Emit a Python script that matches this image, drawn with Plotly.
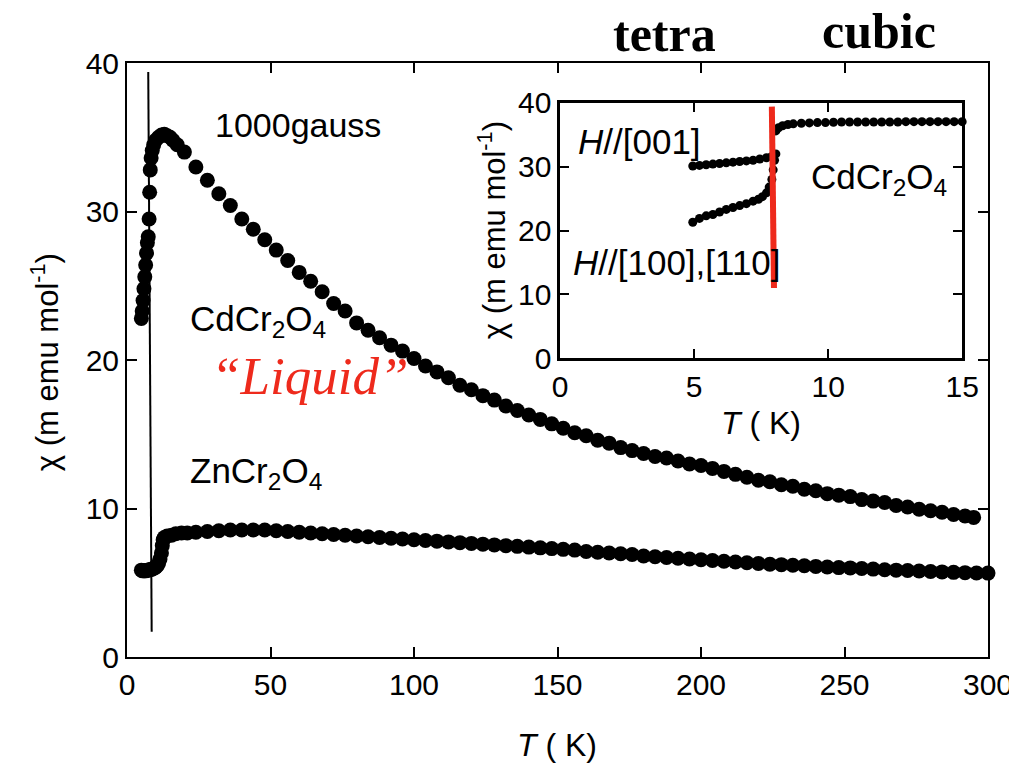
import plotly.graph_objects as go

# ---------------- main panel data ----------------
cd_T = [5.0, 5.3, 5.6, 5.9, 6.2, 6.5, 6.8, 7.1, 7.4, 7.7, 7.9, 8.1, 8.4, 8.8, 9.3, 10.0, 11.0, 12.0,
        13.0, 14.0, 15.0, 16.0, 17.5, 20, 24, 28, 32, 36, 40, 44, 48, 52, 56, 60, 64, 68, 72, 76,
        80, 84, 88, 92, 96, 100, 104, 108, 112, 116, 120, 124, 128, 132, 136, 140, 144, 148, 152,
        156, 160, 164, 168, 172, 176, 180, 184, 188, 192, 196, 200, 204, 208, 212, 216, 220, 224,
        228, 232, 236, 240, 244, 248, 252, 256, 260, 264, 268, 272, 276, 280, 284, 288, 292, 295]
cd_chi = [22.8, 23.3, 24.0, 24.8, 25.6, 26.4, 27.2, 27.9, 28.3, 29.5, 31.3, 32.8, 33.6, 34.1, 34.5,
          34.8, 35.0, 35.15, 35.2, 35.1, 35.0, 34.8, 34.5, 34.0, 33.0, 32.1, 31.2, 30.4, 29.5, 28.8,
          28.1, 27.4, 26.7, 25.9, 25.3, 24.6, 23.8, 23.3, 22.5, 22.0, 21.5, 21.0, 20.6, 20.1, 19.6,
          19.2, 18.8, 18.3, 18.0, 17.6, 17.3, 16.9, 16.6, 16.3, 16.0, 15.7, 15.4, 15.1, 14.9, 14.6,
          14.4, 14.1, 13.9, 13.7, 13.5, 13.4, 13.2, 13.0, 12.9, 12.7, 12.5, 12.3, 12.1, 11.9, 11.8,
          11.6, 11.5, 11.3, 11.2, 11.0, 10.9, 10.8, 10.6, 10.5, 10.4, 10.2, 10.1, 9.95, 9.85, 9.75,
          9.6, 9.5, 9.4]

zn_T = [5.0, 5.5, 6.0, 6.5, 7.0, 7.5, 8.0, 8.5, 9.0, 9.5, 10.0, 10.5, 11.0, 11.5, 12.0, 12.3, 12.6,
        13.0, 14.0, 15.5, 17, 19, 21, 24, 28, 32, 36, 40, 44, 48, 52, 56, 60, 64, 68, 72, 76, 80,
        84, 88, 92, 96, 100, 104, 108, 112, 116, 120, 124, 128, 132, 136, 140, 144, 148, 152, 156,
        160, 164, 168, 172, 176, 180, 184, 188, 192, 196, 200, 204, 208, 212, 216, 220, 224, 228,
        232, 236, 240, 244, 248, 252, 256, 260, 264, 268, 272, 276, 280, 284, 288, 292, 296, 300]
zn_chi = [5.85, 5.8, 5.8, 5.8, 5.85, 5.85, 5.9, 5.9, 5.95, 6.0, 6.05, 6.15, 6.3, 6.6, 7.0, 7.5, 7.9,
          8.05, 8.15, 8.2, 8.3, 8.35, 8.35, 8.4, 8.45, 8.5, 8.55, 8.55, 8.55, 8.55, 8.5, 8.45, 8.4,
          8.35, 8.3, 8.25, 8.2, 8.15, 8.1, 8.05, 8.0, 7.95, 7.9, 7.85, 7.8, 7.75, 7.7, 7.65, 7.6,
          7.55, 7.5, 7.45, 7.4, 7.35, 7.3, 7.25, 7.2, 7.1, 7.05, 7.0, 6.95, 6.9, 6.8, 6.75, 6.7,
          6.65, 6.6, 6.55, 6.5, 6.45, 6.4, 6.35, 6.3, 6.25, 6.22, 6.18, 6.14, 6.1, 6.06, 6.02, 6.0,
          5.96, 5.92, 5.88, 5.85, 5.82, 5.79, 5.76, 5.73, 5.7, 5.68, 5.66, 5.65]

# vertical marker line at the transition (main panel)
tn_line_T = [7.4, 8.6]
tn_line_chi = [39.4, 1.7]

# ---------------- inset data ----------------
h001_T = [4.95, 5.2, 5.45, 5.7, 5.95, 6.2, 6.45, 6.7, 6.95, 7.2, 7.45, 7.7, 7.9, 8.05]
h001_chi = [30.1, 30.2, 30.3, 30.4, 30.5, 30.6, 30.7, 30.8, 30.9, 31.0, 31.2, 31.4, 31.6, 32.0]

h100_T = [4.95, 5.2, 5.45, 5.7, 5.95, 6.2, 6.45, 6.7, 6.95, 7.2, 7.4, 7.55, 7.7, 7.8, 7.9, 7.95, 8.0]
h100_chi = [21.3, 21.9, 22.3, 22.5, 22.9, 23.3, 23.6, 23.9, 24.2, 24.6, 24.9, 25.3, 25.9, 26.8,
            28.0, 29.5, 31.0]

cubic_T = [8.05, 8.15, 8.3, 8.5, 8.7, 9.0, 9.3, 9.6, 9.9, 10.2, 10.5, 10.8, 11.1, 11.4, 11.7,
           12.0, 12.3, 12.6, 12.9, 13.2, 13.5, 13.8, 14.1, 14.4, 14.7, 15.0]
cubic_chi = [35.6, 36.1, 36.4, 36.6, 36.7, 36.8, 36.85, 36.9, 36.9, 36.95, 37.0, 37.0, 37.0, 37.0,
             37.0, 37.0, 37.0, 37.0, 37.05, 37.05, 37.05, 37.05, 37.05, 37.05, 37.05, 37.05]

red_line_T = [7.9, 7.98]
red_line_chi = [39.4, 11.0]

main_xticks = [0, 50, 100, 150, 200, 250, 300]
main_yticks = [0, 10, 20, 30, 40]
inset_xticks = [0, 5, 10, 15]
inset_yticks = [0, 10, 20, 30, 40]

FONT = "Liberation Sans, Arial, sans-serif"
SERIF = "Liberation Serif, Times New Roman, serif"
RED = "#ee2a1c"

# page offset (browser body margin) compensation
OFF = 8
PL, PT, PW, PH = 127, 63, 863, 594  # plot area on screen

fig = go.Figure()

fig.add_trace(go.Scatter(x=tn_line_T, y=tn_line_chi, mode="lines",
                         line=dict(color="black", width=2), xaxis="x", yaxis="y",
                         showlegend=False, hoverinfo="skip"))
fig.add_trace(go.Scatter(x=cd_T, y=cd_chi, mode="markers", name="CdCr2O4",
                         marker=dict(color="black", size=15, symbol="circle"),
                         xaxis="x", yaxis="y", showlegend=False, cliponaxis=False))
fig.add_trace(go.Scatter(x=zn_T, y=zn_chi, mode="markers", name="ZnCr2O4",
                         marker=dict(color="black", size=15, symbol="circle"),
                         xaxis="x", yaxis="y", showlegend=False, cliponaxis=False))

# inset
for tx, ty in [(h001_T, h001_chi), (h100_T, h100_chi), (cubic_T, cubic_chi)]:
    fig.add_trace(go.Scatter(x=tx, y=ty, mode="markers",
                             marker=dict(color="black", size=9, symbol="circle"),
                             xaxis="x2", yaxis="y2", showlegend=False, cliponaxis=False))
fig.add_trace(go.Scatter(x=red_line_T, y=red_line_chi, mode="lines",
                         line=dict(color=RED, width=6), xaxis="x2", yaxis="y2",
                         showlegend=False, hoverinfo="skip"))

axis_common = dict(showline=True, linecolor="black", mirror="ticks", ticks="inside",
                   tickcolor="black", showgrid=False, zeroline=False,
                   tickfont=dict(family=FONT, size=30, color="black"))

fig.update_layout(
    width=1017, height=764,
    margin=dict(l=PL - OFF, r=1017 - PL - PW + OFF, t=PT - OFF, b=764 - PT - PH + OFF),
    paper_bgcolor="white", plot_bgcolor="white",
    xaxis=dict(range=[0, 300], tickvals=main_xticks, domain=[0, 1], anchor="y",
               linewidth=2, ticklen=10, tickwidth=2, **axis_common),
    yaxis=dict(range=[0, 40], tickvals=main_yticks, domain=[0, 1], anchor="x",
               linewidth=2, ticklen=10, tickwidth=2, **axis_common),
    xaxis2=dict(range=[0, 15], tickvals=inset_xticks, domain=[0.503, 0.970], anchor="y2",
                linewidth=2.5, ticklen=9, tickwidth=2, **axis_common),
    yaxis2=dict(range=[0, 40], tickvals=inset_yticks, domain=[0.503, 0.933], anchor="x2",
                linewidth=2.5, ticklen=9, tickwidth=2, **axis_common),
)

ann = []
def txt(text, x, y, xref, yref, size, family=FONT, color="black", xanchor="left",
        yanchor="middle", angle=0):
    ann.append(dict(text=text, x=x, y=y, xref=xref, yref=yref, showarrow=False,
                    font=dict(family=family, size=size, color=color),
                    xanchor=xanchor, yanchor=yanchor, textangle=angle))

# main panel labels
txt("1000gauss", 30, 35.8, "x", "y", 34)
txt("CdCr<sub>2</sub>O<sub>4</sub>", 21.3, 22.6, "x", "y", 35)
txt("<i>“Liquid”</i>", 28.5, 18.9, "x", "y", 53, family=SERIF, color=RED)
txt("ZnCr<sub>2</sub>O<sub>4</sub>", 21.3, 12.4, "x", "y", 35)
txt("<b>tetra</b>", 666, 34, "pixel", "pixel", 50, family=SERIF, xanchor="center")
txt("<b>cubic</b>", 881, 31, "pixel", "pixel", 50, family=SERIF, xanchor="center")
# inset labels
txt("<i>H</i>//[001]", 0.6, 34.0, "x2", "y2", 35)
txt("<i>H</i>//[100],[110]", 0.4, 15.0, "x2", "y2", 35)
txt("CdCr<sub>2</sub>O<sub>4</sub>", 9.3, 28.0, "x2", "y2", 35)

# axis titles (screen pixel positions)
txt("<i>T</i> ( K)", 558, 745, "pixel", "pixel", 32, xanchor="center")
txt("χ (m emu mol<sup>-1</sup>)", 45, 362, "pixel", "pixel", 31, xanchor="center", angle=-90)
txt("<i>T</i> ( K)", 762, 423, "pixel", "pixel", 32, xanchor="center")
txt("χ (m emu mol<sup>-1</sup>)", 493, 230, "pixel", "pixel", 31, xanchor="center", angle=-90)

# convert screen-pixel refs to paper (relative to the plot area)
for a in ann:
    if a["xref"] == "pixel":
        a["xref"] = "paper"
        a["x"] = (a["x"] - PL) / PW
    if a["yref"] == "pixel":
        a["yref"] = "paper"
        a["y"] = (PT + PH - a["y"]) / PH

fig.update_layout(annotations=ann)
fig.write_html("out.html")
